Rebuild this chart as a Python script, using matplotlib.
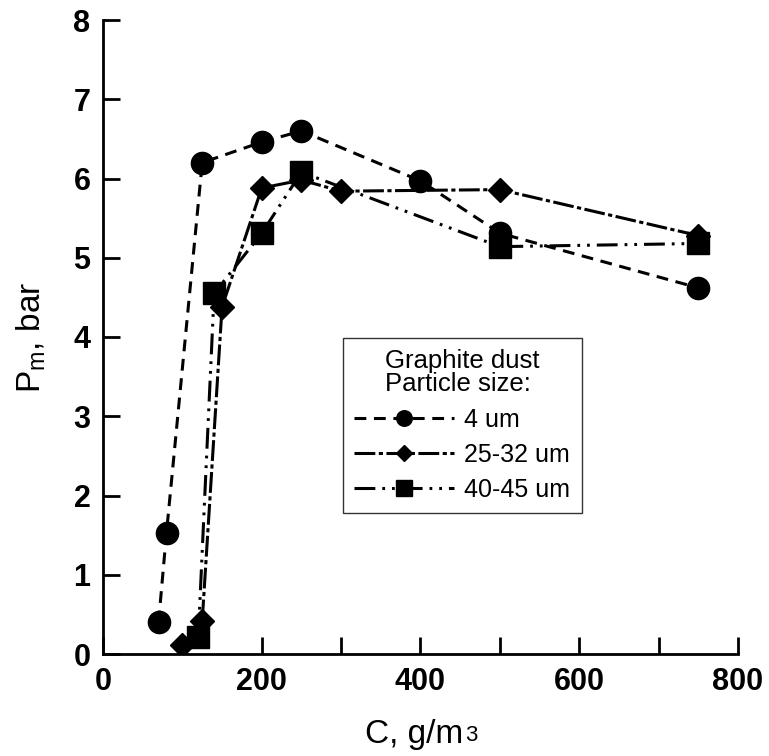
import matplotlib
matplotlib.use("Agg")
import matplotlib.pyplot as plt
from matplotlib.ticker import MultipleLocator

plt.rcParams['font.family'] = ['Liberation Sans', 'DejaVu Sans']
plt.rcParams['mathtext.fontset'] = 'custom'
plt.rcParams['mathtext.rm'] = 'Liberation Sans'
plt.rcParams['mathtext.it'] = 'Liberation Sans:italic'
plt.rcParams['lines.scale_dashes'] = False

# Data
x_4um = [70, 80, 125, 200, 250, 400, 500, 750]
y_4um = [0.40, 1.53, 6.20, 6.46, 6.60, 5.97, 5.31, 4.62]

x_25 = [100, 125, 150, 200, 250, 300, 500, 750]
y_25 = [0.11, 0.42, 4.38, 5.88, 5.98, 5.84, 5.86, 5.28]

x_40 = [120, 140, 200, 250, 500, 750]
y_40 = [0.21, 4.55, 5.31, 6.08, 5.14, 5.18]

labels = ["4 um", "25-32 um", "40-45 um"]

fig = plt.figure(figsize=(7.69, 7.56), dpi=100)
ax = fig.add_axes([103/769, 1-654/756, (738-103)/769, (654-20)/756])

lw = 2.2
l1, = ax.plot(x_4um, y_4um, color='black', lw=lw, dashes=(8.5, 5.5),
              marker='o', ms=16, label=labels[0])
l2, = ax.plot(x_25, y_25, color='black', lw=lw, dashes=(15, 2.5, 3, 2.5),
              marker='D', ms=12, label=labels[1])
l3, = ax.plot(x_40, y_40, color='black', lw=lw, dashes=(15, 5, 2, 5, 2, 5),
              marker='s', ms=16, label=labels[2])

ax.set_xlim(0, 800)
ax.set_ylim(0, 8)
xt = list(range(0, 801, 100))
ax.set_xticks(xt)
ax.set_xticklabels([str(v) if v % 200 == 0 else "" for v in xt])
ax.yaxis.set_major_locator(MultipleLocator(1))
ax.spines['top'].set_visible(False)
ax.spines['right'].set_visible(False)
for s in ['left', 'bottom']:
    ax.spines[s].set_linewidth(2.0)
ax.tick_params(axis='both', direction='in', length=12, width=2.0,
               labelsize=22)
ax.tick_params(axis='x', pad=9)
ax.tick_params(axis='y', pad=9)
for t in ax.get_xticklabels() + ax.get_yticklabels():
    t.set_fontweight('bold')

# Axis labels
ax.set_ylabel(r"P$_\mathregular{m}$, bar", fontsize=24, labelpad=18)
t = ax.text(0.49, -0.103, "C, g/m", transform=ax.transAxes, fontsize=24,
            ha='center', va='top')
ax.annotate("3", xy=(1, 0), xycoords=t, xytext=(1, 3), textcoords='offset points',
            fontsize=16, ha='left', va='bottom')

leg = ax.legend(handles=[l1, l2, l3], title="Graphite dust\nParticle size:",
                loc='upper left', bbox_to_anchor=((343-103)/635, (654-338)/634),
                fontsize=18, title_fontsize=18.5, handlelength=4.0,
                markerscale=0.7, frameon=True, fancybox=False,
                edgecolor='black', borderpad=0.45, labelspacing=0.45,
                handletextpad=0.4, borderaxespad=0)
leg.get_title().set_linespacing(0.95)
leg.get_frame().set_linewidth(1.0)

fig.savefig("out.png", dpi=100)
